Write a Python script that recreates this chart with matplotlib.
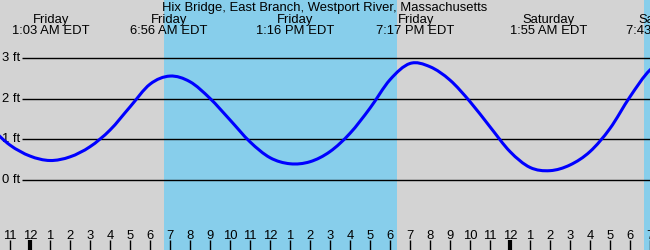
import matplotlib
matplotlib.use("Agg")
import matplotlib.pyplot as plt
from matplotlib.path import Path
from matplotlib.patches import PathPatch

TITLE = "Hix Bridge, East Branch, Westport River, Massachusetts"

# hourly tide height in ft, hours counted from Friday 00:00
hours = list(range(-2, 33))
height = [1.30, 0.86, 0.59, 0.48, 0.57, 0.82, 1.23, 1.80, 2.36, 2.56,
          2.42, 2.01, 1.48, 0.94, 0.55, 0.40, 0.45, 0.70, 1.15, 1.77,
          2.47, 2.87, 2.79, 2.46, 1.93, 1.31, 0.70, 0.31, 0.23, 0.37,
          0.70, 1.27, 2.05, 2.71, 3.00]

# daylight (sunrise, sunset) in hours from Friday 00:00
daylight = [(6.7, 18.35), (30.72, 33.0)]

# high / low tide labels along the top
event_hours = [1.05, 6.93, 13.27, 19.28, 25.92, 31.72]
event_days = ["Friday", "Friday", "Friday", "Friday", "Saturday", "Saturday"]
event_times = ["1:03 AM EDT", "6:56 AM EDT", "1:16 PM EDT", "7:17 PM EDT", "1:55 AM EDT", "7:43 AM EDT"]

ft_levels = [0, 1, 2, 3]
tick_hours = list(range(-1, 32))
tick_labels = ["11", "12", "1", "2", "3", "4", "5", "6", "7", "8", "9", "10", "11",
               "12", "1", "2", "3", "4", "5", "6", "7", "8", "9", "10", "11",
               "12", "1", "2", "3", "4", "5", "6", "7"]
midnights = [0, 24]

FONT = "Liberation Sans"
FS = 9.4

# pixel mapping: x px = 30 + 20*h, y px = 180 - 40.6*ft
X0, X1 = -1.5, 31.0
Y0, Y1 = (180 - 250) / 40.6, 180 / 40.6


def smooth_path(xs, ys):
    """Catmull-Rom style curve through the points, as bezier segments."""
    n = len(xs)
    slopes = []
    for i in range(n):
        a, b = max(i - 1, 0), min(i + 1, n - 1)
        slopes.append((ys[b] - ys[a]) / (xs[b] - xs[a]))
    verts = [(xs[0], ys[0])]
    codes = [Path.MOVETO]
    for i in range(n - 1):
        dx = (xs[i + 1] - xs[i]) / 3
        verts += [(xs[i] + dx, ys[i] + slopes[i] * dx),
                  (xs[i + 1] - dx, ys[i + 1] - slopes[i + 1] * dx),
                  (xs[i + 1], ys[i + 1])]
        codes += [Path.CURVE4] * 3
    return Path(verts, codes)


fig = plt.figure(figsize=(6.5, 2.5), dpi=100)
ax = fig.add_axes([0, 0, 1, 1])
ax.set_xlim(X0, X1)
ax.set_ylim(Y0, Y1)
ax.axis("off")
fig.patch.set_facecolor("#d3d3d3")

for start, end in daylight:
    ax.axvspan(start, end, color="#87ceeb", lw=0, zorder=1)

# grid lines and ft labels
px_h = 1 / 20.0
for lv in ft_levels:
    ax.plot([X0 + 22 * px_h, X1], [lv, lv], color="black", lw=1.0, zorder=2,
            solid_capstyle="butt")
    ax.text(X0 + 20 * px_h, lv, f"{lv} ft", ha="right", va="center",
            fontsize=FS, family=FONT, zorder=3)

ax.add_patch(PathPatch(smooth_path(hours, height), facecolor="none",
                       edgecolor="#0000ff", lw=2.2, zorder=4))

# top labels
px_v = 1 / 40.6
ax.text(X0 + 325 * px_h, Y1 - 7.5 * px_v, TITLE, ha="center", va="center",
        fontsize=FS, family=FONT)
for h, d, t in zip(event_hours, event_days, event_times):
    ax.text(h, Y1 - 20 * px_v, d, ha="center", va="center", fontsize=FS, family=FONT)
    ax.text(h, Y1 - 31.5 * px_v, t, ha="center", va="center", fontsize=FS, family=FONT)

# hour ticks along the bottom
for h, lab in zip(tick_hours, tick_labels):
    w = 3.0 if h in midnights else 1.0
    ax.plot([h, h], [Y0, Y0 + 10 * px_v], color="black", lw=w, zorder=3,
            solid_capstyle="butt")
    ax.text(h, Y0 + 14 * px_v, lab, ha="center", va="center", fontsize=FS, family=FONT)

fig.savefig("out.png", dpi=100, facecolor=fig.get_facecolor())
